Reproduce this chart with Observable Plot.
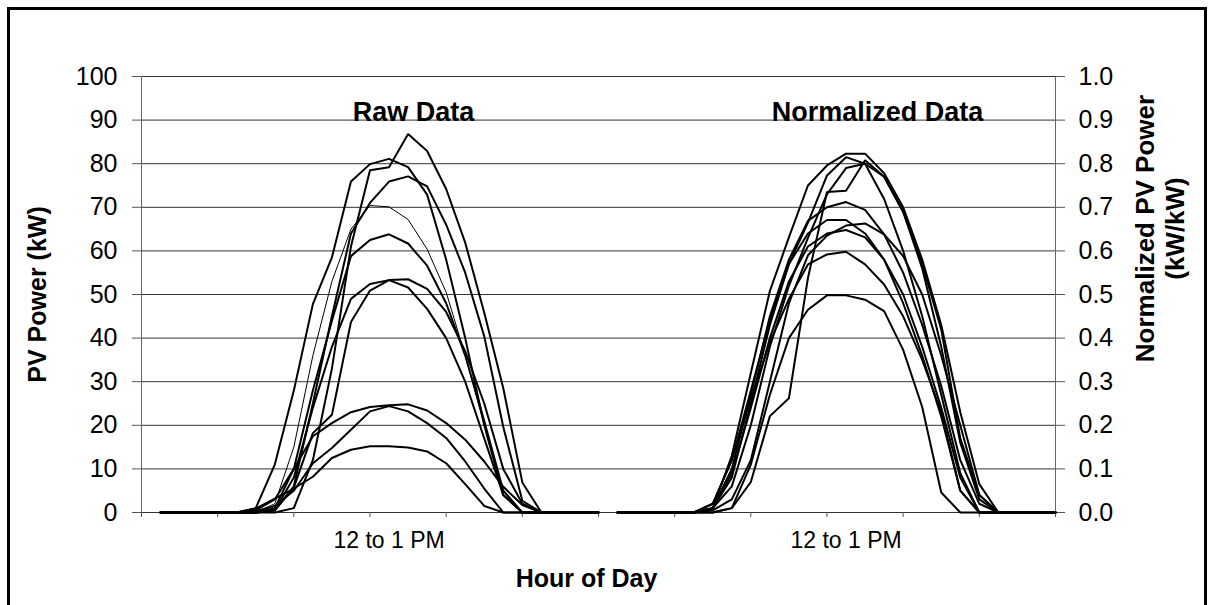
<!DOCTYPE html>
<html><head><meta charset="utf-8">
<script src="https://cdn.jsdelivr.net/npm/d3@7"></script>
<script src="https://cdn.jsdelivr.net/npm/@observablehq/plot@0.6"></script>
<style>
body{margin:0;background:#fff;}
#frame{position:absolute;left:7px;top:7px;width:1194px;height:640px;border:3px solid #000;border-bottom:none;box-sizing:content-box;}
#chart{position:absolute;left:0;top:0;}
</style></head><body>
<div id="frame"></div><div id="chart"></div>
<script>
// Hour index 0..23 ("0 to 1 AM" ... "11 to 12 PM")
const hours = d3.range(24);

// Raw data, kW
const raw1 = [0,0,0,0,0,0,0,1,12,33,61,78.5,79.2,86.8,82.9,74.2,61.9,45.8,28.5,6.9,0,0,0,0];
const raw2 = [0,0,0,0,0,1,11,28,47.8,58.5,75.9,79.9,81.1,79.2,72.9,58,40,20,4,0,0,0,0,0];
const raw3 = [0,0,0,0,0,0,0.5,6,25,45,64,71,75.9,77.1,74.8,66,55,40.4,19.6,2.7,0,0,0,0];
const raw4 = [0,0,0,0,0,0,2,15,36,53,65,70.4,70.1,67.2,60.4,50.5,36,20,4,0,0,0,0,0]; // thin line
const raw5 = [0,0,0,0,0,0,1,10,28,44,58.8,62.5,63.8,61.7,56.6,48,36,21,5,0,0,0,0,0];
const raw6 = [0,0,0,0,0,0,0.5,8,24,38,49,52.4,53.3,53.5,51.3,46,37,25,10,2,0,0,0,0];
const raw7 = [0,0,0,0,0,0,0.5,5.7,18.2,22.4,43.7,50.9,53.3,51.6,46.7,40,30,17,4,0,0,0,0,0];
const raw8 = [0,0,0,0,0,0.5,3,10,17.5,20.5,23,24.2,24.6,24.8,23.4,20.5,16.7,11.7,5.9,1.7,0,0,0,0];
const raw9 = [0,0,0,0,0,0.3,1.5,5,11.3,14.8,19,23.2,24.4,23.2,20.5,17.1,11.7,5.5,0,0,0,0,0,0];
const raw10 = [0,0,0,0,0,0.9,3.2,5.5,8.2,12.5,14.4,15.2,15.2,14.9,14,11.3,6.5,1.5,0,0,0,0,0,0];

// Normalized data, kW/kW
const normA = [0,0,0,0,0,0.01,0.13,0.32,0.508,0.631,0.75,0.796,0.823,0.823,0.778,0.70,0.58,0.43,0.23,0.065,0,0,0,0];
const normB = [0,0,0,0,0,0.02,0.12,0.28,0.44,0.57,0.665,0.773,0.815,0.80,0.719,0.60,0.45,0.27,0.09,0,0,0,0,0];
const normC = [0,0,0,0,0,0,0.01,0.07,0.221,0.262,0.538,0.735,0.738,0.808,0.77,0.69,0.57,0.42,0.17,0.04,0,0,0,0];
const normD = [0,0,0,0,0,0.01,0.1,0.27,0.45,0.58,0.669,0.70,0.712,0.694,0.638,0.55,0.43,0.29,0.12,0.02,0,0,0,0];
const normE = [0,0,0,0,0,0.01,0.08,0.25,0.43,0.57,0.64,0.671,0.671,0.64,0.58,0.48,0.36,0.22,0.05,0,0,0,0,0];
const normF = [0,0,0,0,0,0.005,0.03,0.12,0.30,0.48,0.59,0.635,0.658,0.663,0.638,0.588,0.50,0.36,0.20,0.04,0,0,0,0];
const normG = [0,0,0,0,0,0.01,0.09,0.24,0.40,0.53,0.61,0.64,0.648,0.631,0.58,0.50,0.38,0.24,0.08,0,0,0,0,0];
const normH = [0,0,0,0,0,0.02,0.12,0.26,0.39,0.49,0.569,0.592,0.598,0.569,0.523,0.45,0.35,0.23,0.05,0,0,0,0,0];
const normI = [0,0,0,0,0,0,0.01,0.11,0.27,0.40,0.465,0.498,0.498,0.488,0.462,0.373,0.242,0.046,0,0,0,0,0,0];
const normJ = [0,0,0,0,0,0.01,0.06,0.2,0.38,0.52,0.63,0.73,0.79,0.80,0.77,0.69,0.56,0.38,0.16,0.03,0,0,0,0];

// Axis texts
const leftTicks = [0,10,20,30,40,50,60,70,80,90,100];
const rightTickLabels = ["0.0","0.1","0.2","0.3","0.4","0.5","0.6","0.7","0.8","0.9","1.0"];
const xTickLabels = [{hour: 12, label: "12 to 1 PM"}];
const panelTitles = ["Raw Data", "Normalized Data"];
const yTitle = "PV Power (kW)";
const y2Title = "Normalized PV Power\n(kW/kW)";
const xTitle = "Hour of Day";

// Category position: one empty slot, then 24 raw hours, then 24 normalized hours
const rawSeries = [raw1, raw2, raw3, raw4, raw5, raw6, raw7, raw8, raw9, raw10];
const normSeries = [normA, normB, normC, normD, normE, normF, normG, normH, normI, normJ];
const thinRaw = new Set([3]);
const rows = [];
rawSeries.forEach((s, i) => hours.forEach(h => rows.push({series: "raw" + i, thin: thinRaw.has(i), pos: h + 1, kw: s[h]})));
normSeries.forEach((s, i) => hours.forEach(h => rows.push({series: "norm" + i, thin: false, pos: 24 + h + 1, kw: s[h] * 100})));

const xLabelPos = [];
[0, 24].forEach(off => xTickLabels.forEach(t => xLabelPos.push({pos: off + t.hour + 1, label: t.label})));
const xLabelMap = new Map(xLabelPos.map(d => [d.pos, d.label]));

const font = "'Liberation Sans', Arial, sans-serif";
const chart = Plot.plot({
  width: 1209, height: 605,
  marginLeft: 141, marginRight: 154, marginTop: 76, marginBottom: 93,
  x: {domain: [0, 48], axis: null},
  y: {domain: [0, 100], axis: null},
  style: {fontFamily: font, background: "transparent", color: "#000"},
  marks: [
    Plot.ruleY(leftTicks, {stroke: "#333", strokeWidth: 1}),
    Plot.ruleX([0, 48], {stroke: "#666", strokeWidth: 1}),
    Plot.axisY({anchor: "left", ticks: leftTicks, tickSize: 9, tickPadding: 15, fontSize: 25, label: null, stroke: "#555"}),
    Plot.axisY({anchor: "right", ticks: leftTicks, tickSize: 9, tickPadding: 14, fontSize: 25, label: null, stroke: "#555",
      tickFormat: d => rightTickLabels[leftTicks.indexOf(d)]}),
    Plot.axisX({anchor: "bottom", ticks: d3.range(0, 49, 4), tickSize: 5, tickFormat: () => "", label: null, stroke: "#555"}),
    Plot.axisX({anchor: "bottom", ticks: xLabelPos.map(d => d.pos), tickSize: 0, tickPadding: 19, fontSize: 23,
      tickFormat: d => xLabelMap.get(d), label: null}),
    Plot.line(rows.filter(d => !d.thin), {x: "pos", y: "kw", z: "series", stroke: "#000", strokeWidth: 2, strokeLinejoin: "miter"}),
    Plot.line(rows.filter(d => d.thin), {x: "pos", y: "kw", z: "series", stroke: "#000", strokeWidth: 1}),
    Plot.text([panelTitles[0]], {frameAnchor: "top-left", dx: 272, dy: 44, textAnchor: "middle", lineAnchor: "bottom", fontSize: 27, fontWeight: "bold"}),
    Plot.text([panelTitles[1]], {frameAnchor: "top-left", dx: 736, dy: 44, textAnchor: "middle", lineAnchor: "bottom", fontSize: 27, fontWeight: "bold"}),
    Plot.text([yTitle], {frameAnchor: "left", dx: -104, rotate: -90, textAnchor: "middle", fontSize: 25, fontWeight: "bold"}),
    Plot.text([y2Title], {frameAnchor: "right", dx: 104, dy: -66, rotate: -90, textAnchor: "middle", lineAnchor: "middle", lineHeight: 1.15, fontSize: 26, fontWeight: "bold"}),
    Plot.text([xTitle], {frameAnchor: "bottom", dx: -12, dy: 74, textAnchor: "middle", lineAnchor: "bottom", fontSize: 25, fontWeight: "bold"})
  ]
});
document.getElementById("chart").appendChild(chart);
</script>
</body></html>
